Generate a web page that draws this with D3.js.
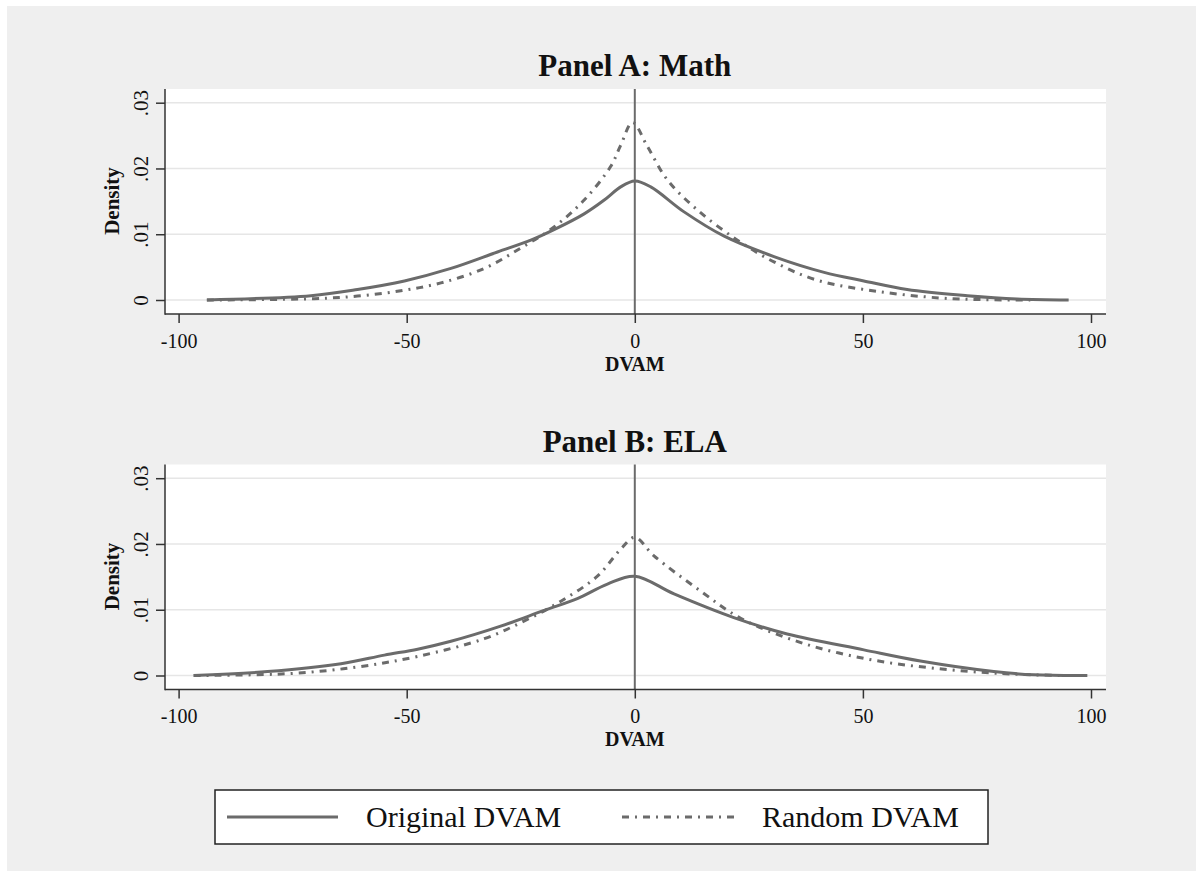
<!DOCTYPE html>
<html>
<head>
<meta charset="utf-8">
<script src="https://cdn.jsdelivr.net/npm/d3@7"></script>
<style>
  body { margin: 0; background: white; }
  text { font-family: "Liberation Serif", "Times New Roman", serif; fill: #111; }
</style>
</head>
<body>
<script>
const width = 1196;
const height = 871;

// data: [DVAM, density]
const mathOriginal = [[-93.8,0],[-71,0.00066],[-60.8,0.0016],[-50.5,0.0029],[-40.3,0.0048],[-30.1,0.0073],
    [-22.8,0.0091],[-17.7,0.0107],[-11.1,0.0131],[-6.7,0.0152],[-3.1,0.0172],[0,0.0181],[3.5,0.0172],
    [10.8,0.0134],[19.6,0.0097],[30.5,0.0066],[41.5,0.0042],[50.2,0.0029],[59.7,0.0016],[72.9,0.00066],
    [83.8,0.00015],[95.1,0]];
const mathRandom = [[-93.8,0],[-70.3,0.0002],[-60.8,0.0006],[-51.3,0.0014],[-42.5,0.0026],[-33,0.0048],
    [-25,0.0079],[-17.7,0.0111],[-11.1,0.0152],[-5.3,0.0203],[-3.1,0.0235],[-0.5,0.027],[2.8,0.0233],
    [7.1,0.0183],[13.7,0.0137],[22.5,0.0091],[30.5,0.0058],[40,0.003],[53.2,0.0013],[67,0.0003],
    [76.5,0.00005],[86.7,0]];
const elaOriginal = [[-96.7,0],[-80.5,0.0006],[-64.4,0.0018],[-54.9,0.0031],[-47.6,0.004],[-40.3,0.0052],
    [-29.4,0.0075],[-19.9,0.0099],[-12.6,0.0117],[-6,0.0139],[0,0.0151],[8.6,0.0124],[21.7,0.0088],
    [33.4,0.0063],[50.2,0.0039],[62.6,0.0022],[78.7,0.0006],[87.5,0.0001],[99.2,0]];
const elaRandom = [[-96.7,0],[-75.4,0.0003],[-60.8,0.0013],[-47.6,0.0029],[-33,0.0056],[-24.2,0.0083],
    [-16.2,0.0113],[-8.2,0.0151],[-3.1,0.0192],[0,0.021],[4.2,0.0182],[14.5,0.0128],
    [23.2,0.0087],[36.4,0.005],[51,0.0025],[65.6,0.0011],[80.2,0.0003],[93.3,0]];

const xTicks = [-100, -50, 0, 50, 100];
const yTicks = [0, 0.01, 0.02, 0.03];
const yTickLabels = ["0", ".01", ".02", ".03"];
const panelTitles = ["Panel A: Math", "Panel B: ELA"];
const legendLabels = ["Original DVAM", "Random DVAM"];

const lineColor = "#6b6b6b";
const dashDot = "7,6,2,6";

const svg = d3.select("body").append("svg")
    .attr("width", width)
    .attr("height", height);

svg.append("rect").attr("x", 0).attr("y", 0).attr("width", width).attr("height", height).attr("fill", "white");
svg.append("rect").attr("x", 7).attr("y", 6).attr("width", width - 7).attr("height", height - 6).attr("fill", "#efefef");

const x = d3.scaleLinear().domain([-100, 100]).range([178.6, 1091]);

function drawPanel(top, title, original, random) {
    const g = svg.append("g").attr("transform", "translate(0," + top + ")");
    const left = 165, right = 1106, plotTop = 89, plotBottom = 314;
    const y = d3.scaleLinear().domain([0, 0.03]).range([300, 102.7]);

    g.append("rect").attr("x", left).attr("y", plotTop)
        .attr("width", right - left).attr("height", plotBottom - plotTop)
        .attr("fill", "white");

    // grid
    g.selectAll(".grid").data(yTicks).enter().append("line")
        .attr("x1", left).attr("x2", right)
        .attr("y1", d => y(d)).attr("y2", d => y(d))
        .attr("stroke", "#e6e6e6").attr("stroke-width", 1.5);

    // zero line
    g.append("line")
        .attr("x1", x(0)).attr("x2", x(0))
        .attr("y1", plotTop).attr("y2", plotBottom)
        .attr("stroke", lineColor).attr("stroke-width", 2);

    const line = d3.line()
        .x(d => x(d[0])).y(d => y(d[1]))
        .curve(d3.curveCatmullRom.alpha(0.5));

    g.append("path").datum(random).attr("d", line)
        .attr("fill", "none").attr("stroke", lineColor).attr("stroke-width", 3)
        .attr("stroke-dasharray", dashDot);
    g.append("path").datum(original).attr("d", line)
        .attr("fill", "none").attr("stroke", lineColor).attr("stroke-width", 3);

    // axes
    const yAxis = g.append("g").attr("transform", "translate(" + left + ",0)")
        .call(d3.axisLeft(y).tickValues(yTicks).tickSize(9).tickPadding(0)
            .tickFormat((d, i) => yTickLabels[i]));
    yAxis.select(".domain").remove();
    yAxis.selectAll("line").attr("stroke", "#333").attr("stroke-width", 1.5);
    yAxis.selectAll("text")
        .attr("transform", "translate(-24,0) rotate(-90)")
        .attr("x", 0).attr("y", 0).attr("dy", "0.35em")
        .attr("text-anchor", "middle")
        .style("font-size", "21px").style("font-family", "Liberation Serif").attr("fill", "#111");

    const xAxis = g.append("g").attr("transform", "translate(0," + plotBottom + ")")
        .call(d3.axisBottom(x).tickValues(xTicks).tickSize(9).tickFormat(d => String(d)));
    xAxis.select(".domain").remove();
    xAxis.selectAll("line").attr("stroke", "#333").attr("stroke-width", 1.5);
    xAxis.selectAll("text").style("font-size", "20px").style("font-family", "Liberation Serif")
        .attr("fill", "#111").attr("dy", null).attr("y", 33.5);

    g.append("line").attr("x1", left).attr("x2", left).attr("y1", plotTop).attr("y2", plotBottom + 0.75)
        .attr("stroke", "#333").attr("stroke-width", 1.5);
    g.append("line").attr("x1", left).attr("x2", right).attr("y1", plotBottom).attr("y2", plotBottom)
        .attr("stroke", "#333").attr("stroke-width", 1.5);

    // labels
    g.append("text").attr("x", x(0)).attr("y", 370.5)
        .attr("text-anchor", "middle").style("font-size", "20px").style("font-weight", "bold")
        .text("DVAM");
    g.append("text").attr("transform", "translate(119,201) rotate(-90)")
        .attr("text-anchor", "middle").style("font-size", "21px").style("font-weight", "bold")
        .text("Density");
    g.append("text").attr("x", x(0)).attr("y", 76)
        .attr("text-anchor", "middle").style("font-size", "31px").style("font-weight", "bold")
        .text(title);
}

drawPanel(0, panelTitles[0], mathOriginal, mathRandom);
drawPanel(375.5, panelTitles[1], elaOriginal, elaRandom);

// legend
const legend = svg.append("g");
legend.append("rect").attr("x", 215).attr("y", 790).attr("width", 773).attr("height", 54)
    .attr("fill", "white").attr("stroke", "#222").attr("stroke-width", 1.5);
const legendItems = [[227, 338, 366, null], [622, 735, 762, dashDot]];
legendItems.forEach((it, i) => {
    legend.append("line").attr("x1", it[0]).attr("x2", it[1]).attr("y1", 817).attr("y2", 817)
        .attr("stroke", lineColor).attr("stroke-width", 3)
        .attr("stroke-dasharray", it[3]);
    legend.append("text").attr("x", it[2]).attr("y", 827)
        .style("font-size", "30px")
        .text(legendLabels[i]);
});
</script>
</body>
</html>
